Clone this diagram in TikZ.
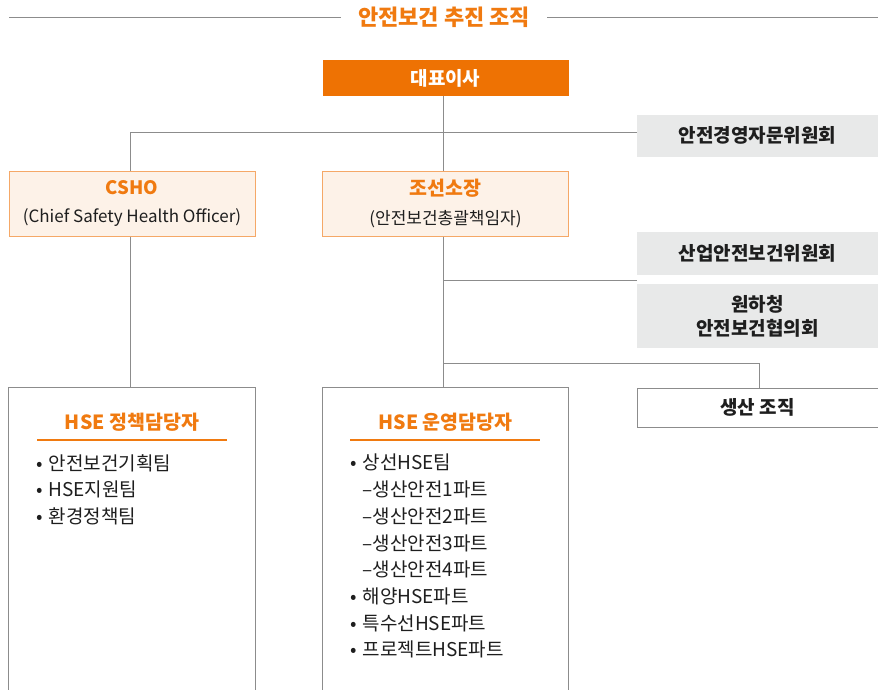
\documentclass[tikz,border=0pt]{standalone}
\usepackage{fontspec}
\setmainfont{Noto Sans CJK KR}
\definecolor{ora}{HTML}{EE7203}
\definecolor{oratext}{HTML}{F07A10}
\definecolor{orabg}{HTML}{FDF2E8}
\definecolor{oraline}{HTML}{F5A867}
\definecolor{graybg}{HTML}{E8E9E9}
\definecolor{linegray}{HTML}{8C8C8C}
\definecolor{txt}{HTML}{1E1E1E}
\newcommand{\itemdot}{•\kern6pt}
\newcommand{\subindent}{\phantom{•}\kern6pt}
\begin{document}
\begin{tikzpicture}[x=1pt,y=-1pt,
  conn/.style={draw=linegray,line width=1pt},
  ceobox/.style={fill=ora,minimum width=246pt,minimum height=36pt,inner sep=0pt,text=white,font=\fontsize{19}{22}\selectfont\bfseries},
  headbox/.style={fill=orabg,draw=oraline,line width=1pt,minimum width=246pt,minimum height=65pt,inner sep=0pt,align=center,text=txt},
  graybox/.style={fill=graybg,minimum width=241pt,inner sep=0pt,align=center,text=txt,font=\fontsize{19}{24}\selectfont\bfseries},
  prodbox/.style={fill=white,draw=linegray,line width=1pt,minimum width=241pt,minimum height=39pt,inner sep=0pt,text=txt,font=\fontsize{19}{22}\selectfont\bfseries},
  listbox/.style={minimum width=246pt,minimum height=305pt,inner sep=0pt},
  listtitle/.style={text=oratext,font=\fontsize{19.5}{22}\selectfont\bfseries,inner sep=0pt},
  items/.style={anchor=north west,align=left,inner sep=0pt,text=txt,font=\fontsize{19}{26.7}\selectfont},
  uline/.style={draw=oratext,line width=1.2pt}
]
\useasboundingbox (0,0) rectangle (878,689);
% title
\node[text=oratext,font=\fontsize{22}{26}\selectfont\bfseries,inner sep=0pt] (title) at (444,17) {안전보건 추진 조직};
\coordinate (tl) at (9,17.5);
\coordinate (tr) at (878,17.5);
\draw[conn] (tl) -- ([xshift=-17pt]tl -| title.west);
\draw[conn] ([xshift=17pt]tr -| title.east) -- (tr);
% boxes
\node[ceobox] (ceo) at (445.5,78) {대표이사};
\node[graybox,minimum height=42pt] (cm1) at (757.5,135.5) {안전경영자문위원회};
\node[headbox] (csho) at (132,203.5) {{\fontsize{18.5}{22}\selectfont\bfseries\color{oratext}CSHO}\\[12pt]{\fontsize{17}{20}\selectfont (Chief Safety Health Officer)}};
\node[headbox] (josun) at (445.5,203.5) {{\fontsize{19.5}{22}\selectfont\bfseries\color{oratext}조선소장}\\[12pt]{\fontsize{17}{20}\selectfont (안전보건총괄책임자)}};
\node[graybox,minimum height=43pt] (cm2) at (757.5,253.5) {산업안전보건위원회};
\node[graybox,minimum height=64pt] (cm3) at (757.5,316) {원하청\\안전보건협의회};
\node[prodbox] (prod) at (757.5,407.5) {생산 조직};
\node[listbox] (policy) at (132,540.5) {};
\node[listbox] (ops) at (445.5,540.5) {};
\draw[conn] (policy.south west) -- (policy.north west) -- (policy.north east) -- (policy.south east);
\draw[conn] (ops.south west) -- (ops.north west) -- (ops.north east) -- (ops.south east);
% list contents
\node[listtitle] (ptitle) at (132,422) {HSE 정책담당자};
\node[listtitle] (otitle) at (445.5,422) {HSE 운영담당자};
\coordinate (pu1) at (37,440); \coordinate (pu2) at (227,440);
\coordinate (ou1) at (350,440); \coordinate (ou2) at (540,440);
\draw[uline] (pu1) -- (pu2);
\draw[uline] (ou1) -- (ou2);
\node[items] (plist) at (36,454) {\itemdot 안전보건기획팀\\\itemdot HSE지원팀\\\itemdot 환경정책팀};
\node[items] (olist) at (350,454) {\itemdot 상선HSE팀\\\subindent –생산안전1파트\\\subindent –생산안전2파트\\\subindent –생산안전3파트\\\subindent –생산안전4파트\\\itemdot 해양HSE파트\\\itemdot 특수선HSE파트\\\itemdot 프로젝트HSE파트};
% connectors
\coordinate (vx) at (443.5,0);
\coordinate (cx) at (130.5,0);
\coordinate (px) at (759.5,0);
\coordinate (j1) at (443.5,132.5);
\coordinate (j2) at (443.5,280.5);
\coordinate (j3) at (443.5,363.5);
\draw[conn] (ceo.south -| vx) -- (josun.north -| vx);
\draw[conn] (csho.north -| cx) |- (j1) -- (j1 -| cm1.west);
\draw[conn] (csho.south -| cx) -- (policy.north -| cx);
\draw[conn] (josun.south -| vx) -- (ops.north -| vx);
\draw[conn] (j2) -- (j2 -| cm2.west);
\draw[conn] (j3) -| (prod.north -| px);
\end{tikzpicture}
\end{document}
